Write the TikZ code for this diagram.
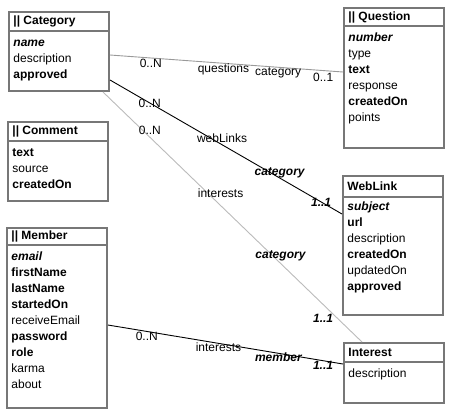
\documentclass[tikz,border=0pt]{standalone}
\usepackage{fontspec}
\setmainfont{Liberation Sans}

\definecolor{boxgray}{HTML}{777777}
\definecolor{linkgray}{HTML}{999999}
\definecolor{faintgray}{HTML}{BBBBBB}

\tikzset{
  entity/.style={draw=boxgray, line width=2pt, anchor=north west, minimum width=100pt, inner sep=0pt},
  divider/.style={draw=boxgray, line width=2pt},
  heading/.style={anchor=west, inner sep=0pt, font=\fontsize{12}{14}\selectfont\bfseries},
  fields/.style={anchor=north west, align=left, inner sep=0pt, font=\fontsize{12}{16}\selectfont},
  tag/.style={inner sep=0pt},
  role/.style={inner sep=0pt, font=\fontsize{12}{14}\selectfont\bfseries\itshape},
}

\begin{document}
\begin{tikzpicture}[x=1pt, y=-1pt, font=\fontsize{12}{14}\selectfont, line width=0.9pt]
      \useasboundingbox (0,0) rectangle (452,413);

      % Category
      \node[entity, minimum height=79pt] (category) at (8,11) {};
      \draw[divider] ([yshift=-20pt]category.north west) -- ([yshift=-20pt]category.north east);
      \node[heading] (categorytitle) at ([xshift=5pt, yshift=-10pt]category.north west) {|| Category};
      \node[fields] (categoryfields) at ([xshift=5pt, yshift=-24pt]category.north west)
        {\strut\textbf{\textit{name}}\\description\\\textbf{approved}};

      % Comment
      \node[entity, minimum height=79pt] (comment) at (7,121) {};
      \draw[divider] ([yshift=-20pt]comment.north west) -- ([yshift=-20pt]comment.north east);
      \node[heading] (commenttitle) at ([xshift=5pt, yshift=-10pt]comment.north west) {|| Comment};
      \node[fields] (commentfields) at ([xshift=5pt, yshift=-24pt]comment.north west)
        {\strut\textbf{text}\\source\\\textbf{createdOn}};

      % Member
      \node[entity, minimum height=180pt] (member) at (6,227) {};
      \draw[divider] ([yshift=-18pt]member.north west) -- ([yshift=-18pt]member.north east);
      \node[heading] (membertitle) at ([xshift=5pt, yshift=-9pt]member.north west) {|| Member};
      \node[fields] (memberfields) at ([xshift=5pt, yshift=-22pt]member.north west)
        {\strut\textbf{\textit{email}}\\\textbf{firstName}\\\textbf{lastName}\\\textbf{startedOn}\\receiveEmail\\
         \textbf{password}\\\textbf{role}\\karma\\about};

      % Question
      \node[entity, minimum height=140pt] (question) at (343,7) {};
      \draw[divider] ([yshift=-19pt]question.north west) -- ([yshift=-19pt]question.north east);
      \node[heading] (questiontitle) at ([xshift=5pt, yshift=-10pt]question.north west) {|| Question};
      \node[fields] (questionfields) at ([xshift=5pt, yshift=-23pt]question.north west)
        {\strut\textbf{\textit{number}}\\type\\\textbf{text}\\response\\\textbf{createdOn}\\points};

      % WebLink
      \node[entity, minimum height=139pt] (weblink) at (342,175) {};
      \draw[divider] ([yshift=-22pt]weblink.north west) -- ([yshift=-22pt]weblink.north east);
      \node[heading] (weblinktitle) at ([xshift=5pt, yshift=-11pt]weblink.north west) {WebLink};
      \node[fields] (weblinkfields) at ([xshift=5pt, yshift=-24pt]weblink.north west)
        {\strut\textbf{\textit{subject}}\\\textbf{url}\\description\\\textbf{createdOn}\\updatedOn\\\textbf{approved}};

      % Interest
      \node[entity, minimum height=60pt] (interest) at (343,342) {};
      \draw[divider] ([yshift=-20pt]interest.north west) -- ([yshift=-20pt]interest.north east);
      \node[heading] (interesttitle) at ([xshift=5pt, yshift=-10pt]interest.north west) {Interest};
      \node[fields] (interestfields) at ([xshift=5pt, yshift=-24pt]interest.north west) {\strut description};

      % Associations
      \draw[draw=linkgray] ([yshift=-44pt]category.north east) -- ([yshift=-65pt]question.north west)
        node[tag, pos=0.175, yshift=-5pt]{0..N}
        node[tag, pos=0.487, yshift=-6pt]{questions}
        node[tag, pos=0.722, yshift=-6pt]{category}
        node[tag, pos=0.915, yshift=-6.5pt]{0..1};
      \draw ([yshift=-69pt]category.north east) -- ([yshift=-39pt]weblink.north west)
        node[tag, pos=0.171]{0..N}
        node[tag, pos=0.483, yshift=7pt]{webLinks}
        node[role, pos=0.731, yshift=5pt]{category}
        node[role, pos=0.910]{1..1};
      \draw[draw=faintgray] ([xshift=-7pt]category.south east) -- ([xshift=19pt]interest.north west)
        node[tag, pos=0.181, yshift=7pt]{0..N}
        node[tag, pos=0.454, yshift=12pt]{interests}
        node[role, pos=0.685, yshift=7pt]{category}
        node[role, pos=0.85, yshift=-13.5pt]{1..1};
      \draw ([yshift=-98pt]member.north east) -- ([yshift=-22pt]interest.north west)
        node[tag, pos=0.165, yshift=-5pt]{0..N}
        node[tag, pos=0.47, yshift=-4pt]{interests}
        node[role, pos=0.725, yshift=-3.5pt]{member}
        node[role, pos=0.915, yshift=-5pt]{1..1};
    \end{tikzpicture}
\end{document}
